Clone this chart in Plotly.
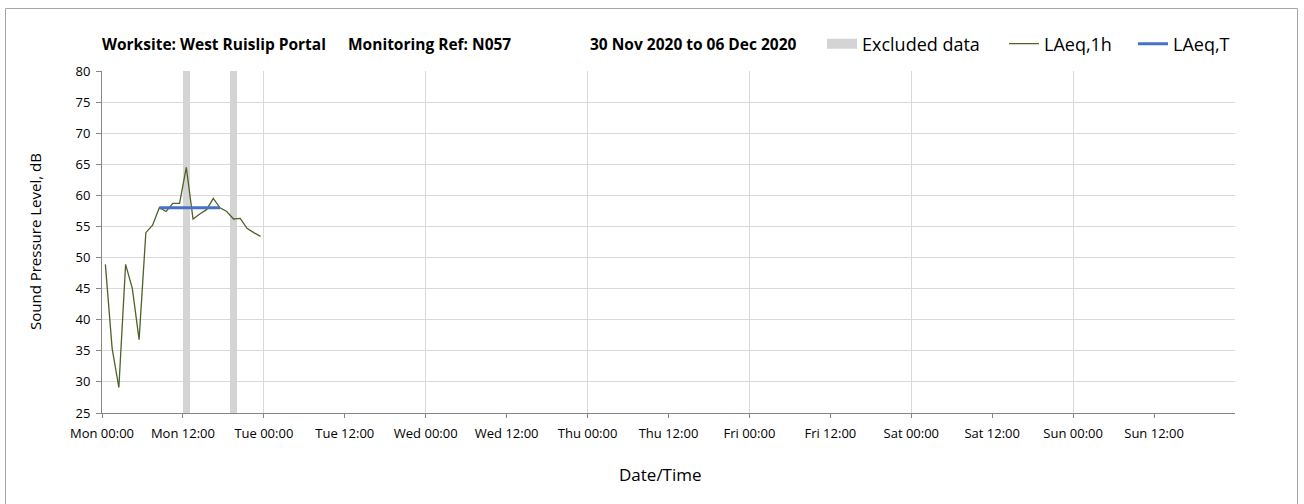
import plotly.graph_objects as go

# ---- data ----
times = ["2020-11-30 %02d:30" % h for h in range(24)]
laeq_1h = [48.9, 35.4, 29.1, 48.9, 45.0, 36.8, 54.0, 55.2, 58.0, 57.4, 58.7, 58.7,
           64.5, 56.2, 57.0, 57.7, 59.5, 58.0, 57.4, 56.2, 56.3, 54.7, 54.0, 53.4]
laeq_t_times = ["2020-11-30 08:30", "2020-11-30 17:30"]
laeq_t = [58.0, 58.0]
excluded_times = ["2020-11-30 12:30", "2020-11-30 19:30"]
excluded_low = [25, 25]
excluded_high = [80, 80]

tick_vals = ["2020-11-30 00:00", "2020-11-30 12:00"] + \
            ["2020-12-%02d %s" % (d, t) for d in range(1, 7) for t in ["00:00", "12:00"]]
tick_text = ["Mon 00:00", "Mon 12:00", "Tue 00:00", "Tue 12:00", "Wed 00:00", "Wed 12:00",
             "Thu 00:00", "Thu 12:00", "Fri 00:00", "Fri 12:00", "Sat 00:00", "Sat 12:00",
             "Sun 00:00", "Sun 12:00"]
day_lines = ["2020-11-30", "2020-12-01", "2020-12-02", "2020-12-03", "2020-12-04",
             "2020-12-05", "2020-12-06", "2020-12-07"]
x_range = ["2020-11-30 00:00", "2020-12-07 00:00"]
y_ticks = list(range(25, 85, 5))

FONT = "Open Sans"
GRID = "#d9d9d9"
AXIS = "#868686"
GREY = "#d4d4d4"

# plot-area geometry (pixels)
L, R, T, B = 102, 1235, 71, 413
PW, PH = R - L, B - T


def px(x):
    return (x - L) / PW


def py(y):
    return (B - y) / PH


fig = go.Figure()
fig.add_trace(go.Bar(
    x=excluded_times, y=[h - l for h, l in zip(excluded_high, excluded_low)], base=excluded_low,
    width=[3600000] * len(excluded_times), marker=dict(color=GREY, line=dict(width=0)),
    name="Excluded data", showlegend=False))
# legend entry for the excluded-data bands (wide grey swatch)
fig.add_trace(go.Scatter(
    x=[None], y=[None], mode="lines", name="Excluded data",
    line=dict(color=GREY, width=10), legend="legend"))
fig.add_trace(go.Scatter(
    x=times, y=laeq_1h, mode="lines", name="LAeq,1h",
    line=dict(color="#4f6228", width=1.3), xaxis="x2", legend="legend2"))
fig.add_trace(go.Scatter(
    x=laeq_t_times, y=laeq_t, mode="lines", name="LAeq,T",
    line=dict(color="#4472c4", width=3), xaxis="x2", legend="legend3"))

legend_common = dict(orientation="h", yanchor="middle", xanchor="left",
                     font=dict(family=FONT, size=18, color="#000000"),
                     bgcolor="rgba(0,0,0,0)", borderwidth=0)
ly = py(44)

fig.update_layout(
    width=1304, height=504,
    margin=dict(l=L, r=1304 - R, t=T, b=504 - B),
    paper_bgcolor="white", plot_bgcolor="white",
    font=dict(family=FONT, color="#000000", size=12),
    showlegend=True,
    legend=dict(x=px(822), y=ly, **legend_common),
    legend2=dict(x=px(1004), y=ly, **legend_common),
    legend3=dict(x=px(1133), y=ly, **legend_common),
    bargap=0,
    xaxis=dict(range=x_range, type="date", tickmode="array", tickvals=tick_vals,
               ticktext=tick_text, showgrid=False, showline=True, linecolor=AXIS,
               linewidth=1, ticks="outside", ticklen=4, tickcolor=AXIS,
               ticklabelstandoff=4,
               tickfont=dict(size=13, family=FONT, color="#000000"), zeroline=False),
    xaxis2=dict(range=x_range, type="date", overlaying="x", matches="x",
                tickmode="array", tickvals=day_lines, showgrid=True, gridcolor=GRID,
                gridwidth=1, showticklabels=False, ticks="", showline=False, zeroline=False),
    yaxis=dict(range=[25, 80], tickmode="array", tickvals=y_ticks, showgrid=True,
               gridcolor=GRID, gridwidth=1, showline=True, linecolor=AXIS, linewidth=1,
               ticks="outside", ticklen=5, tickcolor=AXIS, zeroline=False,
               ticklabelstandoff=3,
               tickfont=dict(size=13, family=FONT, color="#000000")),
)

# axis titles
fig.add_annotation(text="Sound Pressure Level, dB", xref="paper", yref="paper",
                   x=px(35), y=py(242), xanchor="center", yanchor="middle",
                   textangle=-90, showarrow=False,
                   font=dict(family=FONT, size=15, color="#000000"))
fig.add_annotation(text="Date/Time", xref="paper", yref="paper",
                   x=px(660), y=py(474), xanchor="center", yanchor="middle",
                   showarrow=False, font=dict(family=FONT, size=17, color="#000000"))

title_parts = [("Worksite: West Ruislip Portal", 100),
               ("Monitoring Ref: N057", 346),
               ("30 Nov 2020 to 06 Dec 2020", 588)]
for txt, x0 in title_parts:
    fig.add_annotation(text="<b>%s</b>" % txt, xref="paper", yref="paper",
                       x=px(x0), y=py(44), xanchor="left",
                       yanchor="middle", showarrow=False,
                       font=dict(family=FONT, size=15.5, color="#000000"))

# outer chart border
fig.add_shape(type="rect", xref="paper", yref="paper",
              x0=px(5.5), x1=px(1297.5), y0=py(520), y1=py(8.5),
              line=dict(color="#a6a6a6", width=1), fillcolor="rgba(0,0,0,0)", layer="below")

fig.write_html("out.html", config={"displayModeBar": False},
               post_script="document.body.style.margin='0px';")
